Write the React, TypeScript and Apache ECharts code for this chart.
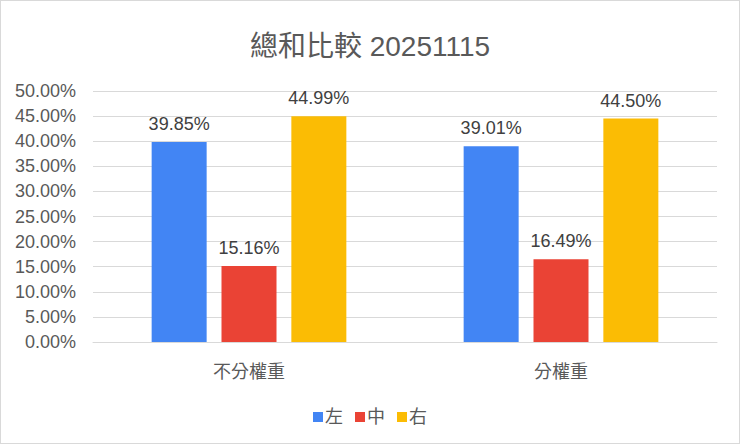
import React, { useEffect, useRef } from "react";
import * as echarts from "echarts";

const categories = ["不分權重", "分權重"];
const seriesNames = ["左", "中", "右"];
const leftValues = [39.85, 39.01];
const midValues = [15.16, 16.49];
const rightValues = [44.99, 44.5];
const colors = ["#4285F4", "#EA4335", "#FBBC04"];

const FONT = "'Liberation Sans', Arial, 'Noto Sans CJK TC', sans-serif";

const App: React.FC = () => {
  const chartRef = useRef<HTMLDivElement>(null);

  useEffect(() => {
    if (!chartRef.current) return;
    const chart = echarts.init(chartRef.current, undefined, { renderer: "svg" });

    const allValues = [leftValues, midValues, rightValues];

    chart.setOption({
      animation: false,
      backgroundColor: "#ffffff",
      textStyle: { fontFamily: FONT },
      title: {
        text: "總和比較 20251115",
        left: "center",
        top: 26,
        textStyle: { fontSize: 28, fontWeight: "normal", color: "#595959", fontFamily: FONT },
      },
      legend: {
        bottom: 12,
        left: "center",
        itemWidth: 10,
        itemHeight: 10,
        itemGap: 12,
        icon: "rect",
        textStyle: { fontSize: 18, color: "#595959", padding: [0, 0, 0, -3] },
        data: seriesNames,
      },
      grid: { left: 92, right: 22, top: 90, bottom: 101, containLabel: false },
      xAxis: {
        type: "category",
        data: categories,
        axisLine: { lineStyle: { color: "#d9d9d9" } },
        axisTick: { show: false },
        axisLabel: { fontSize: 18, color: "#595959", margin: 21 },
      },
      yAxis: {
        type: "value",
        min: 0,
        max: 50,
        interval: 5,
        axisLine: { show: false },
        axisTick: { show: false },
        splitLine: { lineStyle: { color: "#d9d9d9" } },
        axisLabel: {
          fontSize: 18,
          color: "#595959",
          margin: 17,
          formatter: (v: number) => `${v.toFixed(2)}%`,
        },
      },
      series: seriesNames.map((name, i) => ({
        name,
        type: "bar",
        data: allValues[i],
        barWidth: 55,
        barGap: "27%",
        itemStyle: { color: colors[i] },
        label: {
          show: true,
          position: "top",
          distance: 9,
          fontSize: 18,
          color: "#404040",
          formatter: (p: any) => `${Number(p.value).toFixed(2)}%`,
        },
      })),
    });

    return () => {
      chart.dispose();
    };
  }, []);

  return (
    <div
      ref={chartRef}
      style={{
        position: "absolute",
        left: 0,
        top: 0,
        width: 740,
        height: 444,
        boxSizing: "border-box",
        border: "1px solid #d9d9d9",
      }}
    />
  );
};

export default App;
